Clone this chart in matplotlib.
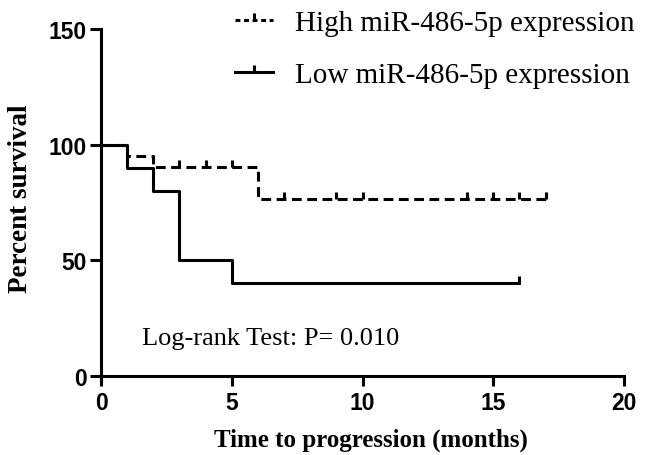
import matplotlib.pyplot as plt

# Kaplan-Meier steps
high_times = [0, 1, 2, 6, 17]
high_surv = [100, 95.2, 90.5, 76.6, 76.6]
high_cens_t = [3, 4, 5, 7, 9, 10, 14, 15, 16, 17]
high_cens_s = [90.5, 90.5, 90.5, 76.6, 76.6, 76.6, 76.6, 76.6, 76.6, 76.6]

low_times = [0, 1, 2, 3, 5, 16]
low_surv = [100, 90, 80, 50, 40, 40]
low_cens_t = [16]
low_cens_s = [40]

x_ticks = [0, 5, 10, 15, 20]
y_ticks = [0, 50, 100, 150]

serif = ['Liberation Serif', 'DejaVu Serif']
sans = ['Liberation Sans', 'DejaVu Sans']

fig = plt.figure(figsize=(6.46, 4.56), dpi=100)
ax = fig.add_axes([101 / 646, 1 - 377 / 456, 523 / 646, 347 / 456])

lw = 2.2
ax.step(high_times, high_surv, where='post', color='black', lw=lw,
        dashes=(3.2, 1.8), clip_on=False)
ax.plot(high_cens_t, high_cens_s, ls='none', marker=2, ms=5, mew=lw,
        color='black', clip_on=False)
ax.step(low_times, low_surv, where='post', color='black', lw=lw, clip_on=False)
ax.plot(low_cens_t, low_cens_s, ls='none', marker=2, ms=5, mew=lw,
        color='black', clip_on=False)

# legend handles
h_high, = ax.plot([], [], color='black', lw=lw, dashes=(1.6, 1.2),
                  marker=2, ms=5, mew=lw, markevery=[1])
h_low, = ax.plot([], [], color='black', lw=lw, marker=2, ms=5, mew=lw,
                 markevery=[1])
leg = ax.legend([h_high, h_low],
                ['High miR-486-5p expression', 'Low miR-486-5p expression'],
                loc='upper left', bbox_to_anchor=(235 / 646, 1 - 11 / 456),
                bbox_transform=fig.transFigure, frameon=False,
                prop={'family': serif, 'size': 21}, handlelength=1.3,
                handletextpad=0.75, labelspacing=0.86, borderpad=0,
                borderaxespad=0, numpoints=1)

ax.text(1.57, 13.8, 'Log-rank Test: P= 0.010', family=serif, fontsize=19,
        va='baseline', ha='left')

ax.set_xlim(0, 20)
ax.set_ylim(0, 150)
ax.set_xticks(x_ticks)
ax.set_yticks(y_ticks)
for lab in ax.get_xticklabels() + ax.get_yticklabels():
    lab.set_family(sans)
    lab.set_fontweight('bold')
    lab.set_fontsize(16.5)

ax.spines['top'].set_visible(False)
ax.spines['right'].set_visible(False)
ax.spines['left'].set_linewidth(2.2)
ax.spines['bottom'].set_linewidth(2.2)
ax.tick_params(axis='y', width=2.2, length=8, direction='out', pad=2)
ax.tick_params(axis='x', width=2.2, length=7, direction='out', pad=4)

ax.set_xlabel('Time to progression (months)', family=serif,
              fontweight='bold', fontsize=18)
ax.xaxis.set_label_coords(0.516, -0.15)
ax.set_ylabel('Percent survival', family=serif, fontweight='bold',
              fontsize=19.5)
ax.yaxis.set_label_coords(-0.13, 0.515)

fig.savefig('out.png', dpi=100)
